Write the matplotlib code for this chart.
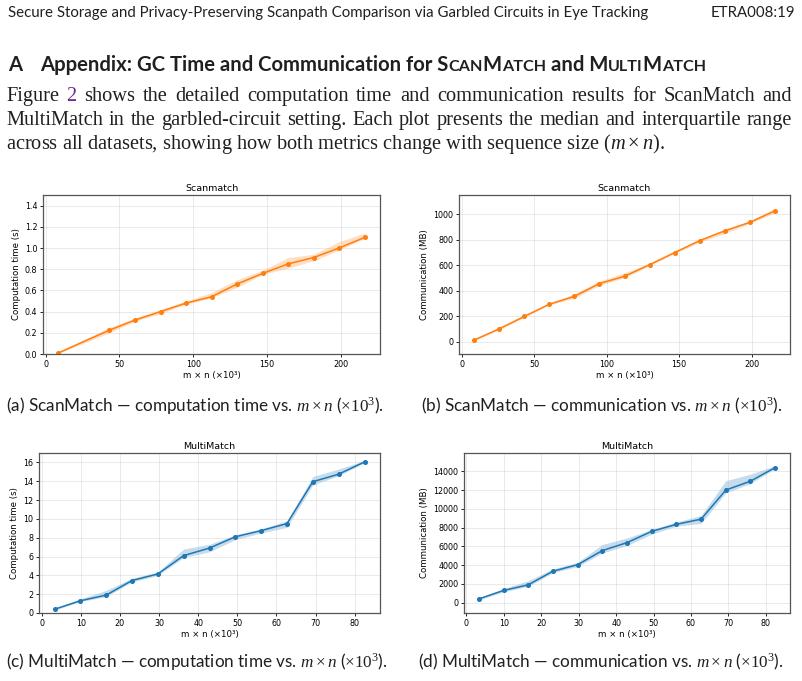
import matplotlib
matplotlib.use("Agg")
import matplotlib.pyplot as plt

# ScanMatch: tamaño de secuencia (x10^3), mediana y rango intercuartílico
sm_tiempo_x = [8.6, 43.2, 60.5, 77.8, 95.0, 112.3, 129.6, 146.9, 164.2, 181.4, 198.7, 216.0]
sm_tiempo_med = [0.01, 0.225, 0.32, 0.40, 0.48, 0.54, 0.66, 0.76, 0.85, 0.91, 1.00, 1.10]
sm_tiempo_q1 = [0.005, 0.20, 0.31, 0.38, 0.47, 0.53, 0.63, 0.75, 0.81, 0.88, 0.98, 1.09]
sm_tiempo_q3 = [0.02, 0.25, 0.34, 0.42, 0.50, 0.58, 0.70, 0.79, 0.91, 0.94, 1.06, 1.14]

sm_com_x = [8.6, 25.9, 43.2, 60.5, 77.8, 95.0, 112.3, 129.6, 146.9, 164.2, 181.4, 198.7, 216.0]
sm_com_med = [12, 100, 197, 293, 355, 455, 512, 603, 698, 792, 868, 935, 1025]
sm_com_q1 = [8, 92, 190, 288, 340, 440, 500, 595, 690, 780, 848, 925, 1010]
sm_com_q3 = [18, 108, 210, 300, 375, 475, 540, 612, 705, 805, 880, 945, 1045]

# MultiMatch
mm_x = [3.3, 9.9, 16.5, 23.1, 29.7, 36.3, 42.9, 49.5, 56.1, 62.7, 69.3, 75.9, 82.5]
mm_tiempo_med = [0.4, 1.3, 1.9, 3.45, 4.15, 6.1, 6.9, 8.1, 8.75, 9.5, 13.95, 14.75, 16.05]
mm_tiempo_q1 = [0.3, 1.2, 1.75, 3.3, 4.0, 5.9, 6.5, 7.8, 8.5, 9.1, 13.6, 14.6, 15.95]
mm_tiempo_q3 = [0.5, 1.5, 2.4, 3.7, 4.35, 6.8, 7.3, 8.3, 8.95, 9.8, 14.5, 15.3, 16.2]

mm_com_med = [400, 1300, 1900, 3350, 4050, 5550, 6400, 7600, 8350, 8900, 12000, 12950, 14400]
mm_com_q1 = [300, 1150, 1750, 3200, 3850, 5300, 6100, 7300, 8150, 8450, 11700, 12700, 14300]
mm_com_q3 = [500, 1500, 2350, 3600, 4300, 6200, 6900, 7800, 8600, 9300, 13000, 13700, 14600]

naranja = '#ff7f0e'
azul = '#1f77b4'

plt.rcParams['mathtext.fontset'] = 'custom'
plt.rcParams['mathtext.rm'] = 'Liberation Serif'
plt.rcParams['mathtext.it'] = 'Liberation Serif:italic'

W, H = 802, 681
fig = plt.figure(figsize=(W / 100, H / 100), dpi=100)
rend = fig.canvas.get_renderer()


def caja(l, t, r, b):
    return [l / W, 1 - b / H, (r - l) / W, (b - t) / H]


def texto(x, y, s, **kw):
    return fig.text(x / W, 1 - y / H, s, va='baseline', **kw)


def ancho(s, **kw):
    t = fig.text(0, 0, s, **kw)
    w = t.get_window_extent(rend).width
    t.remove()
    return w


def ajustar(s, objetivo, **kw):
    # tamaño de letra para que el texto ocupe 'objetivo' píxeles
    return 10 * objetivo / ancho(s, fontsize=10, **kw)


def justificada(palabras, y, x0, x1, size, colores=None, **kw):
    anchos = [ancho(p, fontsize=size, **kw) for p in palabras]
    hueco = (x1 - x0 - sum(anchos)) / (len(palabras) - 1)
    x = x0
    for i, p in enumerate(palabras):
        c = colores.get(i, '#231f20') if colores else '#231f20'
        texto(x, y, p, fontsize=size, color=c, **kw)
        x += anchos[i] + hueco


def versalitas(partes, x, y, size, dibujar=True, **kw):
    # partes: (texto, es_pequeña); None = espacio
    esp = ancho("n n", fontsize=size, **kw) - ancho("nn", fontsize=size, **kw)
    for s in partes:
        if s is None:
            x += esp
            continue
        txt, peq = s
        t = texto(x, y, txt, fontsize=size * (0.8 if peq else 1), **kw)
        x += t.get_window_extent(rend).width
        if not dibujar:
            t.remove()
    return x


negro = '#231f20'
sans = 'Lato'
serif = 'Liberation Serif'

# cabecera
cab = "Secure Storage and Privacy-Preserving Scanpath Comparison via Garbled Circuits in Eye Tracking"
tam_cab = ajustar(cab, 641, family=sans)
texto(8, 17, cab, family=sans, fontsize=tam_cab, color=negro)
texto(795, 17, "ETRA008:19", family=sans, fontsize=tam_cab, color=negro, ha='right')

# título de sección con versalitas
partes = [("Appendix: GC Time and Communication for S", False), ("CAN", True), ("M", False),
          ("ATCH", True), None, ("and M", False), ("ULTI", True), ("M", False), ("ATCH", True)]
estilo_h = dict(family=sans, fontweight='bold', color=negro)
fin = versalitas(partes, 40, 71, 10, dibujar=False, **estilo_h)
tam_h = 10 * (705 - 40) / (fin - 40)
texto(8, 71, "A", fontsize=tam_h, **estilo_h)
versalitas(partes, 40, 71, tam_h, **estilo_h)

# párrafo
l3 = "across all datasets, showing how both metrics change with sequence size ($m \\times n$)."
tam_p = ajustar(l3, 658, family=serif)
justificada("Figure 2 shows the detailed computation time and communication results for ScanMatch and".split(),
            101, 6, 792, tam_p, colores={1: '#6c2b8c'}, family=serif)
justificada("MultiMatch in the garbled-circuit setting. Each plot presents the median and interquartile range".split(),
            125, 6, 792, tam_p, family=serif)
texto(6, 149, l3, family=serif, fontsize=tam_p, color=negro)

# pies de figura
pies = ["(a) ScanMatch — computation time vs. $m \\times n$ ($\\times 10^{3}$).",
        "(b) ScanMatch — communication vs. $m \\times n$ ($\\times 10^{3}$).",
        "(c) MultiMatch — computation time vs. $m \\times n$ ($\\times 10^{3}$).",
        "(d) MultiMatch — communication vs. $m \\times n$ ($\\times 10^{3}$)."]
tam_pie = ajustar(pies[0], 377, family=sans)
texto(6, 411, pies[0], family=sans, fontsize=tam_pie, color=negro)
texto(421, 411, pies[1], family=sans, fontsize=tam_pie, color=negro)
texto(6, 667, pies[2], family=sans, fontsize=tam_pie, color=negro)
texto(418, 667, pies[3], family=sans, fontsize=tam_pie, color=negro)

# gráficos
graficos = [
    (caja(43, 195, 380, 354), sm_tiempo_x, sm_tiempo_med, sm_tiempo_q1, sm_tiempo_q3, naranja,
     'Scanmatch', 'Computation time (s)', (0, 1.5)),
    (caja(459, 195, 790, 354), sm_com_x, sm_com_med, sm_com_q1, sm_com_q3, naranja,
     'Scanmatch', 'Communication (MB)', (-97, 1149)),
    (caja(39, 453, 380, 613), mm_x, mm_tiempo_med, mm_tiempo_q1, mm_tiempo_q3, azul,
     'MultiMatch', 'Computation time (s)', (0, 17)),
    (caja(464, 453, 790, 613), mm_x, mm_com_med, mm_com_q1, mm_com_q3, azul,
     'MultiMatch', 'Communication (MB)', (-1100, 15950)),
]

for pos, x, med, q1, q3, col, titulo, ylab, ylim in graficos:
    ax = fig.add_axes(pos)
    ax.fill_between(x, q1, q3, color=col, alpha=0.25, linewidth=0)
    ax.plot(x, med, color=col, marker='o', markersize=2.6, linewidth=1.1)
    ax.set_ylim(*ylim)
    ax.set_title(titulo, fontsize=6.8, pad=3)
    ax.set_xlabel('m × n (×10³)', fontsize=6.2, labelpad=2)
    ax.set_ylabel(ylab, fontsize=6.2, labelpad=3)
    ax.tick_params(labelsize=5.8, length=2.5, width=0.6, pad=1.5)
    ax.grid(True, alpha=0.3, linewidth=0.6)
    for s in ax.spines.values():
        s.set_color('#555555')
        s.set_linewidth(0.9)

fig.savefig('out.png', dpi=100)
